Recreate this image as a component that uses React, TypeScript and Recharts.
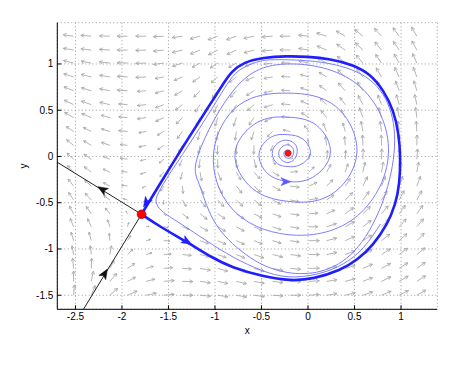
import { ComposedChart, Line, Scatter, XAxis, YAxis, CartesianGrid } from 'recharts';

const FONT = '"Liberation Sans", Arial, Helvetica, sans-serif';

const xTicks = [-2.5, -2, -1.5, -1, -0.5, 0, 0.5, 1];
const yTicks = [-1.5, -1, -0.5, 0, 0.5, 1];

// quiver grid: arrow tails
const gridX = [-2.52, -2.33, -2.13, -1.94, -1.74, -1.55, -1.35, -1.16, -0.97, -0.77, -0.58, -0.38, -0.19, 0.01, 0.2, 0.4, 0.59, 0.79, 0.98, 1.17];
const gridY = [1.3, 1.15, 1.01, 0.86, 0.71, 0.56, 0.42, 0.27, 0.12, -0.03, -0.17, -0.32, -0.47, -0.62, -0.76, -0.91, -1.06, -1.21, -1.35, -1.5];

// arrow direction (deg, counter-clockwise from +x), one row per gridY value
const fieldAngle = [
  [172, 175, 178, 180, 180, 183, 188, 195, 200, 200, 192, 184, 180, 174, 162, 150, 140, 132, 126, 120],
  [170, 173, 176, 180, 182, 186, 193, 202, 207, 205, 195, 185, 179, 171, 157, 145, 135, 129, 124, 118],
  [166, 170, 174, 178, 182, 188, 198, 208, 213, 210, 198, 187, 178, 168, 152, 140, 130, 124, 119, 114],
  [162, 166, 171, 177, 183, 191, 203, 215, 222, 218, 205, 190, 177, 165, 148, 136, 126, 120, 115, 110],
  [158, 163, 169, 176, 184, 195, 210, 225, 232, 228, 212, 193, 176, 160, 143, 131, 121, 115, 110, 106],
  [154, 160, 167, 175, 186, 200, 218, 236, 244, 240, 222, 198, 175, 155, 137, 126, 117, 110, 105, 102],
  [150, 157, 165, 175, 188, 205, 226, 246, 254, 252, 236, 207, 174, 147, 128, 117, 109, 104, 100, 97],
  [146, 153, 163, 174, 190, 210, 234, 254, 262, 262, 252, 225, 168, 128, 113, 105, 100, 97, 95, 93],
  [141, 149, 160, 173, 192, 215, 240, 259, 267, 270, 268, 252, 150, 100, 97, 94, 92, 91, 90, 89],
  [137, 145, 157, 172, 194, 220, 245, 263, 270, 275, 283, 295, 25, 75, 84, 87, 88, 88, 87, 86],
  [133, 142, 155, 172, 198, 228, 255, 280, 292, 300, 312, 330, 5, 45, 62, 72, 78, 80, 80, 80],
  [128, 138, 152, 172, 205, 238, 275, 295, 302, 308, 316, 330, 352, 25, 45, 56, 64, 68, 70, 70],
  [123, 132, 145, 165, 215, 265, 300, 308, 312, 316, 322, 332, 348, 10, 35, 45, 54, 58, 62, 62],
  [118, 124, 128, 120, 292, 318, 322, 322, 325, 328, 333, 340, 352, 5, 25, 37, 45, 50, 54, 55],
  [112, 114, 108, 75, 8, 350, 338, 332, 330, 331, 335, 341, 350, 0, 18, 30, 38, 44, 48, 50],
  [106, 104, 95, 58, 15, 358, 348, 340, 336, 335, 338, 343, 351, 0, 14, 24, 32, 38, 42, 45],
  [100, 96, 80, 45, 16, 4, 354, 346, 340, 338, 341, 346, 352, 0, 12, 20, 28, 33, 37, 40],
  [95, 88, 62, 35, 16, 5, 357, 350, 344, 342, 345, 349, 355, 1, 10, 17, 24, 29, 33, 36],
  [90, 78, 50, 28, 14, 5, 359, 352, 348, 347, 349, 353, 358, 3, 9, 15, 21, 26, 30, 33],
  [85, 68, 42, 24, 12, 5, 0, 355, 351, 350, 352, 356, 0, 4, 9, 14, 19, 23, 27, 30],
];

// arrow length, one digit per arrow
const fieldLength = [
  '77777777777777777777',
  '77777777777777777777',
  '77777776666667777777',
  '77777666666666677777',
  '77776666666666677777',
  '77766666666666667777',
  '77666666666666667777',
  '66665566666555667777',
  '66655556666424667777',
  '66554456666424667777',
  '66544456666555667777',
  '66543456666666667777',
  '66532356666666677777',
  '66521256666666677777',
  '66532356666666777777',
  '66543456666667777777',
  '66654566667777777777',
  '77665667777777777777',
  '77766777777777777777',
  '77777777777777777777',
];

// equilibria
const saddle = [{ x: -1.79, y: -0.625 }];
const focus = [{ x: -0.215, y: 0.035 }];

// homoclinic orbit, saddle back to saddle
const loop: [number, number][] = [
  [-1.79, -0.625], [-1.59, -0.76], [-1.3, -0.925], [-1.02, -1.1], [-0.83, -1.195], [-0.48, -1.3],
  [-0.19, -1.345], [0.06, -1.325], [0.35, -1.23], [0.53, -1.12], [0.7, -0.96], [0.85, -0.74],
  [0.94, -0.52], [0.985, -0.3], [0.995, 0.0], [0.975, 0.25], [0.92, 0.5], [0.81, 0.72], [0.67, 0.89],
  [0.49, 0.99], [0.24, 1.055], [-0.01, 1.08], [-0.23, 1.085], [-0.48, 1.07], [-0.69, 1.02],
  [-0.82, 0.92], [-0.9, 0.805], [-1.01, 0.63], [-1.15, 0.41], [-1.3, 0.175], [-1.45, -0.065],
  [-1.59, -0.295], [-1.69, -0.46], [-1.79, -0.625],
];

// trajectory spiralling out of the focus towards the loop
const spiral: [number, number][] = [
  [-0.18, 0.035], [-0.19, 0.06], [-0.215, 0.071], [-0.243, 0.063], [-0.26, 0.035], [-0.25, 0.0], [-0.215, -0.019], [-0.175, -0.005],
  [-0.155, 0.035], [-0.162, 0.088], [-0.215, 0.125], [-0.282, 0.102], [-0.315, 0.035], [-0.286, -0.036], [-0.215, -0.065], [-0.148, -0.032],
  [-0.118, 0.035], [-0.13, 0.12], [-0.215, 0.175], [-0.325, 0.145], [-0.385, 0.035], [-0.328, -0.078], [-0.215, -0.109], [-0.088, -0.092],
  [0.025, 0.035], [-0.059, 0.191], [-0.215, 0.235], [-0.392, 0.212], [-0.525, 0.035], [-0.434, -0.184], [-0.215, -0.27], [0.047, -0.227],
  [0.24, 0.035], [0.089, 0.339], [-0.215, 0.425], [-0.547, 0.367], [-0.785, 0.035], [-0.597, -0.347], [-0.215, -0.485], [0.238, -0.418],
  [0.525, 0.035], [0.294, 0.544], [-0.215, 0.685], [-0.738, 0.558], [-1.015, 0.035], [-0.816, -0.566], [-0.215, -0.845], [0.492, -0.672],
  [0.865, 0.035], [0.53, 0.78], [-0.215, 1.0], [-0.78, 0.74], [-1.175, 0.035], [-1.17, -0.3], [-1.02, -0.68], [-0.72, -1.02], [-0.215, -1.255], [0.5, -1.02],
  [0.925, 0.035], [0.62, 0.86], [-0.215, 1.045], [-0.55, 1.02], [-0.74, 0.93], [-0.87, 0.78], [-1.0, 0.57], [-1.17, 0.3], [-1.35, 0.02],
  [-1.52, -0.24], [-1.62, -0.42], [-1.63, -0.5], [-1.57, -0.59], [-1.38, -0.72], [-1.1, -0.905], [-0.8, -1.09], [-0.5, -1.23],
  [-0.215, -1.3], [0.1, -1.27], [0.38, -1.16], [0.6, -0.98], [0.78, -0.73],
];

// other saddle branches
const unstableLeft: [number, number][] = [[-1.79, -0.625], [-2.695, -0.063]];
const stableBelow: [number, number][] = [[-2.414, -1.652], [-1.79, -0.625]];

// direction markers: position and heading (deg)
const blackArrows = [{ x: -2.213, y: -0.355, angle: 148 }, { x: -2.184, y: -1.263, angle: 59 }];
const loopArrows = [{ x: -1.74, y: -0.5, angle: 238 }, { x: -1.3, y: -0.921, angle: 330 }];
const spiralArrows = [{ x: -0.237, y: -0.272, angle: 0 }];

const toPts = (pts: [number, number][]) => pts.map(([x, y]) => ({ x, y }));

// quiver as one broken polyline: shaft + open head per arrow
const quiverData: { x: number; y: number | null }[] = [];
gridY.forEach((y0, j) => {
  gridX.forEach((x0, i) => {
    const a = (fieldAngle[j][i] * Math.PI) / 180;
    const len = Number(fieldLength[j][i]) * 0.016;
    const tx = x0 + len * Math.cos(a);
    const ty = y0 + len * Math.sin(a);
    const h = len * 0.35;
    const h1x = tx - h * Math.cos(a - 0.5);
    const h1y = ty - h * Math.sin(a - 0.5);
    const h2x = tx - h * Math.cos(a + 0.5);
    const h2y = ty - h * Math.sin(a + 0.5);
    quiverData.push(
      { x: x0, y: y0 }, { x: tx, y: ty }, { x: h1x, y: h1y }, { x: h1x, y: null },
      { x: tx, y: ty }, { x: h2x, y: h2y }, { x: h2x, y: null },
    );
  });
});

const TICK_IN = 4;
const MARGIN = 5;

function BottomTick({ x, y, payload }: any) {
  const axisY = y - MARGIN;
  return (
    <g>
      <line x1={x} x2={x} y1={axisY} y2={axisY - TICK_IN} stroke="#000" />
      <text x={x} y={axisY + 4} dy="0.71em" textAnchor="middle" fontSize={10} fontFamily={FONT} fill="#000">
        {payload.value}
      </text>
    </g>
  );
}

function LeftTick({ x, y, payload }: any) {
  const axisX = x + MARGIN;
  return (
    <g>
      <line x1={axisX} x2={axisX + TICK_IN} y1={y} y2={y} stroke="#000" />
      <text x={axisX - 4} y={y} dy="0.35em" textAnchor="end" fontSize={10} fontFamily={FONT} fill="#000">
        {payload.value}
      </text>
    </g>
  );
}

function TopTick({ x, y }: any) {
  return <line x1={x} x2={x} y1={y} y2={y + TICK_IN} stroke="#000" />;
}

function RightTick({ x, y }: any) {
  return <line x1={x} x2={x - TICK_IN} y1={y} y2={y} stroke="#000" />;
}

function arrowHead(color: string) {
  return (p: any) => (
    <polygon
      points="5,0 -5,-4 -2.5,0 -5,4"
      fill={color}
      stroke={color}
      strokeWidth={0.5}
      transform={`translate(${p.cx},${p.cy}) rotate(${-p.payload.angle})`}
    />
  );
}

export default function App() {
  return (
    <ComposedChart
      width={445}
      height={350}
      margin={{ top: 14.7, right: 15.7, bottom: 8.7, left: 0 }}
      style={{ fontFamily: FONT }}
    >
      <CartesianGrid xAxisId="b" yAxisId="l" stroke="#9a9a9a" strokeDasharray="1 2.5" />
      <XAxis
        xAxisId="b"
        dataKey="x"
        type="number"
        domain={[-2.695, 1.39]}
        ticks={xTicks}
        interval={0}
        allowDataOverflow
        height={40}
        tickSize={0}
        tickMargin={MARGIN}
        tickLine={false}
        axisLine={{ stroke: '#000' }}
        tick={<BottomTick />}
        label={(props: any) => {
          const vb = props.viewBox;
          return (
            <text x={vb.x + vb.width / 2} y={vb.y + 25} textAnchor="middle" fontSize={10} fontFamily={FONT} fill="#000">
              x
            </text>
          );
        }}
      />
      <XAxis
        xAxisId="t"
        orientation="top"
        dataKey="x"
        type="number"
        domain={[-2.695, 1.39]}
        ticks={xTicks}
        interval={0}
        allowDataOverflow
        height={0}
        tickSize={0}
        tickMargin={0}
        tickLine={false}
        axisLine={{ stroke: '#000' }}
        tick={<TopTick />}
      />
      <YAxis
        yAxisId="l"
        dataKey="y"
        type="number"
        domain={[-1.652, 1.446]}
        ticks={yTicks}
        interval={0}
        allowDataOverflow
        width={49.3}
        tickSize={0}
        tickMargin={MARGIN}
        tickLine={false}
        axisLine={{ stroke: '#000' }}
        tick={<LeftTick />}
        label={(props: any) => {
          const vb = props.viewBox;
          const cx = vb.x + 19;
          const cy = vb.y + vb.height / 2;
          return (
            <text x={cx} y={cy} transform={`rotate(-90 ${cx} ${cy})`} textAnchor="middle" fontSize={10} fontFamily={FONT} fill="#000">
              y
            </text>
          );
        }}
      />
      <YAxis
        yAxisId="r"
        orientation="right"
        dataKey="y"
        type="number"
        domain={[-1.652, 1.446]}
        ticks={yTicks}
        interval={0}
        allowDataOverflow
        width={0}
        tickSize={0}
        tickMargin={0}
        tickLine={false}
        axisLine={{ stroke: '#000' }}
        tick={<RightTick />}
      />

      <Line
        xAxisId="b"
        yAxisId="l"
        data={quiverData}
        dataKey="y"
        type="linear"
        stroke="#a6a6a6"
        strokeWidth={0.85}
        dot={false}
        activeDot={false}
        connectNulls={false}
        isAnimationActive={false}
      />
      <Scatter
        xAxisId="b"
        yAxisId="l"
        data={focus}
        isAnimationActive={false}
        shape={(p: any) => <circle cx={p.cx} cy={p.cy} r={3} fill="#ff1010" stroke="#c00000" strokeWidth={0.6} />}
      />
      <Line
        xAxisId="b"
        yAxisId="l"
        data={toPts(spiral)}
        dataKey="y"
        type="natural"
        stroke="#7d7dff"
        strokeWidth={1}
        dot={false}
        activeDot={false}
        isAnimationActive={false}
      />
      <Line
        xAxisId="b"
        yAxisId="l"
        data={toPts(loop)}
        dataKey="y"
        type="basis"
        stroke="#1e1eff"
        strokeWidth={2.6}
        dot={false}
        activeDot={false}
        isAnimationActive={false}
      />
      <Line
        xAxisId="b"
        yAxisId="l"
        data={toPts(unstableLeft)}
        dataKey="y"
        type="linear"
        stroke="#222"
        strokeWidth={1}
        dot={false}
        activeDot={false}
        isAnimationActive={false}
      />
      <Line
        xAxisId="b"
        yAxisId="l"
        data={toPts(stableBelow)}
        dataKey="y"
        type="linear"
        stroke="#222"
        strokeWidth={1}
        dot={false}
        activeDot={false}
        isAnimationActive={false}
      />
      <Scatter xAxisId="b" yAxisId="l" data={blackArrows} isAnimationActive={false} shape={arrowHead('#111')} />
      <Scatter xAxisId="b" yAxisId="l" data={loopArrows} isAnimationActive={false} shape={arrowHead('#1e1eff')} />
      <Scatter xAxisId="b" yAxisId="l" data={spiralArrows} isAnimationActive={false} shape={arrowHead('#5a5aff')} />
      <Scatter
        xAxisId="b"
        yAxisId="l"
        data={saddle}
        isAnimationActive={false}
        shape={(p: any) => <circle cx={p.cx} cy={p.cy} r={4.3} fill="#ff0000" stroke="#c00000" strokeWidth={0.8} />}
      />
    </ComposedChart>
  );
}
